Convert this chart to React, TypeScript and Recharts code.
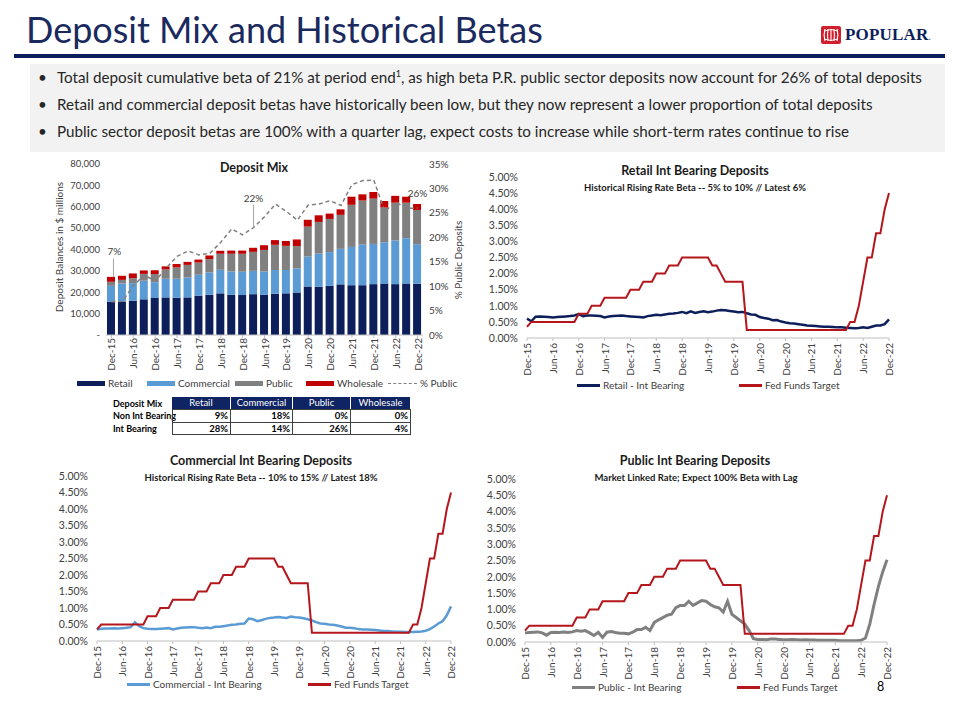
import React from "react";
import { ComposedChart, LineChart, Bar, Line, XAxis, YAxis } from "recharts";

const FONT = "Lato, 'Open Sans', sans-serif";
const NAVY = "#0C1F5B";
const BLUE = "#5B9BD5";
const GRAY = "#808080";
const RED = "#C00000";
const FED_RED = "#B4161B";
const TXT = "#404040";

const MON = ["Jan", "Feb", "Mar", "Apr", "May", "Jun", "Jul", "Aug", "Sep", "Oct", "Nov", "Dec"];
const YRS = ["16", "17", "18", "19", "20", "21", "22"];
const MONTHS = ["Dec-15", ...YRS.flatMap((y) => MON.map((m) => `${m}-${y}`))];
const QUARTERS = ["Dec-15", ...YRS.flatMap((y) => ["Mar", "Jun", "Sep", "Dec"].map((m) => `${m}-${y}`))];

// deposit balances, $ millions, quarter end
const RETAIL_BAL = [15600, 15700, 16000, 16700, 17300, 17600, 17400, 17600, 18400, 18800, 19500, 18800, 18700, 19100, 18800, 19300, 19500, 19900, 22700, 22600, 23000, 23700, 23300, 23300, 23800, 24100, 23800, 24100, 24000];
const COMMERCIAL_BAL = [7400, 8400, 8300, 8700, 7400, 8700, 8900, 9300, 9800, 10500, 11000, 10900, 10900, 10900, 10900, 11100, 10900, 11200, 14000, 15500, 15800, 16600, 17900, 19000, 18800, 19300, 20400, 21200, 18500];
const PUBLIC_BAL = [1900, 1700, 2300, 3200, 3800, 4400, 5300, 5900, 5700, 6200, 7500, 8300, 8400, 8900, 10100, 11800, 11300, 10500, 14000, 14800, 15500, 15900, 19700, 20600, 21200, 16200, 17700, 16600, 16000];
const WHOLESALE_BAL = [2300, 1900, 2200, 1600, 1800, 1400, 1600, 1400, 1400, 1700, 1400, 1500, 1500, 1900, 2200, 2200, 2300, 3100, 3200, 3100, 2500, 2600, 3800, 2900, 3100, 3100, 3200, 2800, 2800];
const PCT_PUBLIC = [6.8, 6.9, 10.1, 12.3, 11.0, 13.7, 16.1, 17.2, 16.4, 16.7, 19.0, 21.7, 20.5, 22.0, 24.2, 26.8, 25.3, 23.5, 26.6, 26.8, 27.5, 26.5, 30.8, 31.6, 31.7, 25.3, 27.2, 25.9, 26.0];
const PCT_CALLOUTS: Record<number, string> = { 0: "7%", 13: "22%", 28: "26%" };

// monthly rates, %
const FED_FUNDS = [
  0.35, 0.5, 0.5, 0.5, 0.5, 0.5, 0.5, 0.5, 0.5, 0.5, 0.5, 0.5,
  0.75, 0.75, 0.75, 1.0, 1.0, 1.0, 1.25, 1.25, 1.25, 1.25, 1.25, 1.25,
  1.5, 1.5, 1.5, 1.75, 1.75, 1.75, 2.0, 2.0, 2.0, 2.25, 2.25, 2.25,
  2.5, 2.5, 2.5, 2.5, 2.5, 2.5, 2.5, 2.25, 2.25, 2.0, 1.75, 1.75,
  1.75, 1.75, 1.75, 0.25, 0.25, 0.25, 0.25, 0.25, 0.25, 0.25, 0.25, 0.25,
  0.25, 0.25, 0.25, 0.25, 0.25, 0.25, 0.25, 0.25, 0.25, 0.25, 0.25, 0.25,
  0.25, 0.25, 0.25, 0.5, 0.5, 1.0, 1.75, 2.5, 2.5, 3.25, 3.25, 4.0, 4.5,
];
const RETAIL_RATE = [
  0.6, 0.52, 0.66, 0.67, 0.66, 0.65, 0.64, 0.65, 0.66, 0.67, 0.68, 0.7,
  0.74, 0.68, 0.7, 0.7, 0.69, 0.68, 0.64, 0.67, 0.68, 0.69, 0.7, 0.68,
  0.67, 0.66, 0.65, 0.64, 0.68, 0.7, 0.72, 0.71, 0.73, 0.75, 0.76, 0.78,
  0.81, 0.77, 0.83, 0.78, 0.81, 0.83, 0.8, 0.82, 0.85, 0.87, 0.86, 0.84,
  0.82, 0.8, 0.81, 0.77, 0.73, 0.72, 0.65, 0.62, 0.6, 0.55, 0.56, 0.51,
  0.48, 0.46, 0.45, 0.43, 0.41, 0.39, 0.38, 0.37, 0.36, 0.35, 0.35, 0.34,
  0.33, 0.33, 0.32, 0.31, 0.3, 0.31, 0.33, 0.31, 0.35, 0.39, 0.39, 0.43, 0.58,
];
const COMMERCIAL_RATE = [
  0.35, 0.37, 0.38, 0.38, 0.39, 0.38, 0.39, 0.4, 0.42, 0.57, 0.45, 0.39,
  0.37, 0.36, 0.36, 0.37, 0.38, 0.39, 0.35, 0.38, 0.4, 0.41, 0.42, 0.42,
  0.4, 0.39, 0.41, 0.39, 0.43, 0.43, 0.45, 0.47, 0.49, 0.5, 0.52, 0.53,
  0.68, 0.66, 0.6, 0.63, 0.67, 0.7, 0.71, 0.73, 0.71, 0.7, 0.74, 0.72,
  0.71, 0.69, 0.66, 0.62, 0.57, 0.53, 0.52, 0.5, 0.49, 0.47, 0.44, 0.4,
  0.4, 0.39, 0.36, 0.35, 0.35, 0.34, 0.33, 0.32, 0.3, 0.3, 0.29, 0.28,
  0.28, 0.27, 0.27, 0.27, 0.28, 0.29, 0.31, 0.36, 0.44, 0.53, 0.6, 0.78, 1.05,
];
const PUBLIC_RATE = [
  0.28, 0.29, 0.3, 0.31, 0.28, 0.21, 0.29, 0.3, 0.29, 0.31, 0.29, 0.31,
  0.35, 0.33, 0.35, 0.28, 0.2, 0.3, 0.14, 0.3, 0.32, 0.29, 0.27, 0.27,
  0.25, 0.3, 0.38, 0.38, 0.45, 0.35, 0.6, 0.68, 0.75, 0.82, 0.85, 1.05,
  1.12, 1.12, 1.25, 1.12, 1.2, 1.27, 1.25, 1.15, 1.08, 1.05, 0.92, 1.25,
  0.85, 0.75, 0.65, 0.55, 0.35, 0.1, 0.08, 0.08, 0.07, 0.09, 0.09, 0.08,
  0.07, 0.07, 0.08, 0.07, 0.06, 0.07, 0.06, 0.06, 0.05, 0.05, 0.05, 0.05,
  0.05, 0.04, 0.04, 0.04, 0.04, 0.04, 0.05, 0.12, 0.55, 1.15, 1.7, 2.15, 2.52,
];

const BAL_TICKS = [0, 10000, 20000, 30000, 40000, 50000, 60000, 70000, 80000];
const PCT_TICKS = [0, 5, 10, 15, 20, 25, 30, 35];
const RATE_TICKS = [0, 0.5, 1, 1.5, 2, 2.5, 3, 3.5, 4, 4.5, 5];

const MIX_COLS = ["Retail", "Commercial", "Public", "Wholesale"];
const MIX_ROWS = ["Non Int Bearing", "Int Bearing"];
const MIX_VALUES = [
  ["9%", "18%", "0%", "0%"],
  ["28%", "14%", "26%", "4%"],
];

const BULLETS = [
  "Total deposit cumulative beta of 21% at period end",
  "Retail and commercial deposit betas have historically been low, but they now represent a lower proportion of total deposits",
  "Public sector deposit betas are 100% with a quarter lag, expect costs to increase while short-term rates continue to rise",
];

const mixData = QUARTERS.map((q, i) => ({
  q,
  retail: RETAIL_BAL[i],
  commercial: COMMERCIAL_BAL[i],
  public: PUBLIC_BAL[i],
  wholesale: WHOLESALE_BAL[i],
  pct: PCT_PUBLIC[i],
}));

const rateData = MONTHS.map((m, i) => ({
  m,
  ff: FED_FUNDS[i],
  retail: RETAIL_RATE[i],
  commercial: COMMERCIAL_RATE[i],
  public: PUBLIC_RATE[i],
}));

function RotTick(props: any) {
  const { x, y, payload } = props;
  return (
    <text
      x={x}
      y={y}
      transform={`rotate(-90 ${x} ${y})`}
      textAnchor="end"
      dominantBaseline="central"
      fontSize={10}
      fill={TXT}
    >
      {payload.value}
    </text>
  );
}

const renderCallout = (p: any) => {
  const t = PCT_CALLOUTS[p.index];
  if (!t) return null;
  const vb = p.viewBox || {};
  const x = vb.x ?? p.x;
  const y = vb.y ?? p.y;
  if (p.index === 0) {
    return (
      <g key="c0">
        <line x1={x + 2} x2={x + 2} y1={y - 43} y2={y - 25} stroke="#A6A6A6" />
        <text x={x + 3} y={y - 47} textAnchor="middle" fontSize={10} fill={TXT}>{t}</text>
      </g>
    );
  }
  if (p.index === 13) {
    return (
      <g key="c13">
        <line x1={x} x2={x} y1={y - 23} y2={y} stroke="#A6A6A6" />
        <text x={x} y={y - 26} textAnchor="middle" fontSize={10} fill={TXT}>{t}</text>
      </g>
    );
  }
  return (
    <text key="c28" x={x} y={y - 11} textAnchor="middle" fontSize={10} fill={TXT}>{t}</text>
  );
};

function Abs({ left, top, children, style }: any) {
  return <div style={{ position: "absolute", left, top, whiteSpace: "nowrap", ...style }}>{children}</div>;
}

function LegendItem({ left, top, label, color, kind }: any) {
  return (
    <div style={{ position: "absolute", left, top: top - 7, height: 14, display: "flex", alignItems: "center", whiteSpace: "nowrap", fontSize: 10, color: TXT }}>
      {kind === "bar" && <div style={{ width: 28, height: 5, background: color }} />}
      {kind === "line" && <div style={{ width: 23, height: 3, background: color }} />}
      {kind === "dash" && <div style={{ width: 29, height: 0, borderTop: `1.5px dashed ${color}` }} />}
      <span style={{ marginLeft: 3 }}>{label}</span>
    </div>
  );
}

function Title({ cx, top, text, size }: any) {
  return (
    <div style={{ position: "absolute", left: cx - 200, width: 400, top, textAlign: "center", fontWeight: 700, fontSize: size, color: "#1a1a1a", whiteSpace: "nowrap" }}>
      {text}
    </div>
  );
}

function RateChart({ left, top, width, height, marginTop, dataKey, color, strokeWidth }: any) {
  return (
    <div style={{ position: "absolute", left, top }}>
      <LineChart width={width} height={height} data={rateData} margin={{ top: marginTop, right: 5, bottom: 5, left: 5 }}>
        <XAxis
          dataKey="m"
          scale="point"
          interval={5}
          height={40}
          tick={<RotTick />}
          tickSize={3}
          tickMargin={2}
          axisLine={{ stroke: "#BFBFBF" }}
          tickLine={{ stroke: "#BFBFBF" }}
        />
        <YAxis
          width={52}
          domain={[0, 5]}
          ticks={RATE_TICKS}
          tickFormatter={(v: number) => v.toFixed(2) + "%"}
          axisLine={false}
          tickLine={false}
          tickSize={7}
          tick={{ fontSize: 10.5, fill: TXT }}
        />
        <Line dataKey={dataKey} stroke={color} strokeWidth={strokeWidth} dot={false} isAnimationActive={false} />
        <Line dataKey="ff" stroke={FED_RED} strokeWidth={2} dot={false} isAnimationActive={false} />
      </LineChart>
    </div>
  );
}

function Logo() {
  return (
    <svg style={{ position: "absolute", left: 821, top: 26 }} width={20} height={18}>
      <rect x={0} y={0} width={20} height={18} rx={2} fill="#D0202E" />
      {[4, 7, 10, 13, 16].map((x) => (
        <path key={x} d={`M${x} 3 Q${x + (x - 10) * 0.3} 9 ${x} 15`} stroke="#fff" strokeWidth={1.1} fill="none" />
      ))}
      <path d="M3 5 Q10 2 17 5 M3 13 Q10 16 17 13" stroke="#fff" strokeWidth={1} fill="none" />
    </svg>
  );
}

export default function App() {
  const colW = [58, 62, 58, 60];
  const colX = [172, 230, 292, 350];
  const bulletStyle = { fontSize: 15.2, lineHeight: "18px", color: "#262626" };
  return (
    <div style={{ position: "absolute", left: 0, top: 0, width: 960, height: 720, background: "#fff", fontFamily: FONT, overflow: "hidden" }}>
      {/* header */}
      <Abs left={26} top={11} style={{ fontSize: 36, lineHeight: "36px", color: "#1B2A5E" }}>Deposit Mix and Historical Betas</Abs>
      <div style={{ position: "absolute", left: 14, top: 54, width: 931, height: 4, background: NAVY }} />
      <Logo />
      <Abs left={845} top={25} style={{ fontFamily: "'Liberation Serif', serif", fontWeight: 700, fontSize: 17, color: NAVY, letterSpacing: 0.2 }}>
        POPULAR<span style={{ fontSize: 9, color: "#7F7F7F" }}>.</span>
      </Abs>

      {/* bullets */}
      <div style={{ position: "absolute", left: 30, top: 64, width: 915, height: 88, background: "#F2F2F2" }} />
      {BULLETS.map((b, i) => (
        <React.Fragment key={i}>
          <Abs left={38} top={68 + i * 27} style={bulletStyle}>•</Abs>
          <Abs left={57} top={68 + i * 27} style={bulletStyle}>
            {b}
            {i === 0 && (
              <>
                <span style={{ fontSize: 9, verticalAlign: "super", lineHeight: 0 }}>1</span>, as high beta P.R. public sector deposits now account for 26% of total deposits
              </>
            )}
          </Abs>
        </React.Fragment>
      ))}

      {/* deposit mix */}
      <Title cx={254} top={160} text="Deposit Mix" size={12.5} />
      <div style={{ position: "absolute", left: 50, top: 150 }}>
        <ComposedChart width={415} height={230} data={mixData} margin={{ top: 14, right: 2, bottom: 5, left: 2 }} barCategoryGap="30%">
          <XAxis
            dataKey="q"
            scale="band"
            interval={1}
            height={40}
            tick={<RotTick />}
            tickSize={3}
            tickMargin={0}
            axisLine={{ stroke: "#BFBFBF" }}
            tickLine={{ stroke: "#BFBFBF" }}
          />
          <YAxis
            yAxisId="bal"
            width={54}
            domain={[0, 80000]}
            ticks={BAL_TICKS}
            tickFormatter={(v: number) => (v === 0 ? "-" : v.toLocaleString("en-US"))}
            axisLine={false}
            tickLine={false}
            tickSize={4}
            tick={{ fontSize: 9.5, fill: TXT }}
          />
          <YAxis
            yAxisId="pct"
            orientation="right"
            width={40}
            domain={[0, 35]}
            ticks={PCT_TICKS}
            tickFormatter={(v: number) => v + "%"}
            axisLine={false}
            tickLine={false}
            tickSize={4}
            tick={{ fontSize: 10, fill: TXT }}
          />
          <Bar yAxisId="bal" dataKey="retail" stackId="d" fill={NAVY} barSize={8} isAnimationActive={false} />
          <Bar yAxisId="bal" dataKey="commercial" stackId="d" fill={BLUE} barSize={8} isAnimationActive={false} />
          <Bar yAxisId="bal" dataKey="public" stackId="d" fill={GRAY} barSize={8} isAnimationActive={false} />
          <Bar yAxisId="bal" dataKey="wholesale" stackId="d" fill={RED} barSize={8} isAnimationActive={false} />
          <Line
            yAxisId="pct"
            dataKey="pct"
            stroke={GRAY}
            strokeWidth={1.5}
            strokeDasharray="4 3"
            dot={false}
            isAnimationActive={false}
            label={renderCallout}
          />
        </ComposedChart>
      </div>
      <Abs left={59} top={247} style={{ fontSize: 10, color: TXT, transform: "translate(-50%, -50%) rotate(-90deg)" }}>
        Deposit Balances in $ millions
      </Abs>
      <Abs left={458} top={260} style={{ fontSize: 10, color: TXT, transform: "translate(-50%, -50%) rotate(-90deg)" }}>
        % Public Deposits
      </Abs>
      <LegendItem left={77} top={383} label="Retail" color={NAVY} kind="bar" />
      <LegendItem left={147} top={383} label="Commercial" color={BLUE} kind="bar" />
      <LegendItem left={235} top={383} label="Public" color={GRAY} kind="bar" />
      <LegendItem left={306} top={383} label="Wholesale" color={RED} kind="bar" />
      <LegendItem left={388} top={383} label="% Public" color={GRAY} kind="dash" />

      {/* mix table */}
      <Abs left={113} top={398} style={{ fontSize: 9, fontWeight: 700, lineHeight: "11px", color: "#000" }}>Deposit Mix</Abs>
      {MIX_COLS.map((c, i) => (
        <div
          key={c}
          style={{ position: "absolute", left: colX[i], top: 397, width: colW[i], height: 12, background: "#0F2462", color: "#fff", fontSize: 9.5, lineHeight: "12px", textAlign: "center", boxSizing: "border-box", borderLeft: i ? "1px solid #fff" : "none" }}
        >
          {c}
        </div>
      ))}
      {MIX_ROWS.map((r, ri) => (
        <React.Fragment key={r}>
          <Abs left={113} top={410 + ri * 12.5} style={{ fontSize: 9, fontWeight: 700, lineHeight: "12px", color: "#000" }}>{r}</Abs>
          {MIX_VALUES[ri].map((v, ci) => (
            <div
              key={ci}
              style={{ position: "absolute", left: colX[ci], top: 409 + ri * 12.5, width: colW[ci] + 1, height: 13.5, border: "1px solid #404040", boxSizing: "border-box", fontSize: 9.5, fontWeight: 700, lineHeight: "11.5px", textAlign: "right", paddingRight: 2, color: "#000" }}
            >
              {v}
            </div>
          ))}
        </React.Fragment>
      ))}

      {/* retail */}
      <Title cx={695} top={163} text="Retail Int Bearing Deposits" size={12.5} />
      <Title cx={695} top={182} text="Historical Rising Rate Beta -- 5% to 10%  // Latest 6%" size={9.5} />
      <RateChart left={470} top={160} width={424} height={223} marginTop={17} dataKey="retail" color={NAVY} strokeWidth={2.5} />
      <LegendItem left={577} top={385} label="Retail - Int Bearing" color={NAVY} kind="line" />
      <LegendItem left={739} top={385} label="Fed Funds Target" color={FED_RED} kind="line" />

      {/* commercial */}
      <Title cx={261} top={453} text="Commercial Int Bearing Deposits" size={12.5} />
      <Title cx={261} top={472} text="Historical Rising Rate Beta -- 10% to 15% // Latest 18%" size={9.5} />
      <RateChart left={40} top={458} width={416} height={228} marginTop={18} dataKey="commercial" color={BLUE} strokeWidth={2.5} />
      <LegendItem left={127} top={684} label="Commercial - Int Bearing" color={BLUE} kind="line" />
      <LegendItem left={308} top={684} label="Fed Funds Target" color={FED_RED} kind="line" />

      {/* public */}
      <Title cx={695} top={453} text="Public Int Bearing Deposits" size={12.5} />
      <Title cx={696} top={472} text="Market Linked Rate; Expect 100% Beta with Lag" size={9.5} />
      <RateChart left={468} top={461} width={424} height={226} marginTop={18} dataKey="public" color={GRAY} strokeWidth={3} />
      <LegendItem left={572} top={687} label="Public - Int Bearing" color={GRAY} kind="line" />
      <LegendItem left={737} top={687} label="Fed Funds Target" color={FED_RED} kind="line" />
      <Abs left={877} top={679} style={{ fontSize: 12.5, color: "#000" }}>8</Abs>
    </div>
  );
}
